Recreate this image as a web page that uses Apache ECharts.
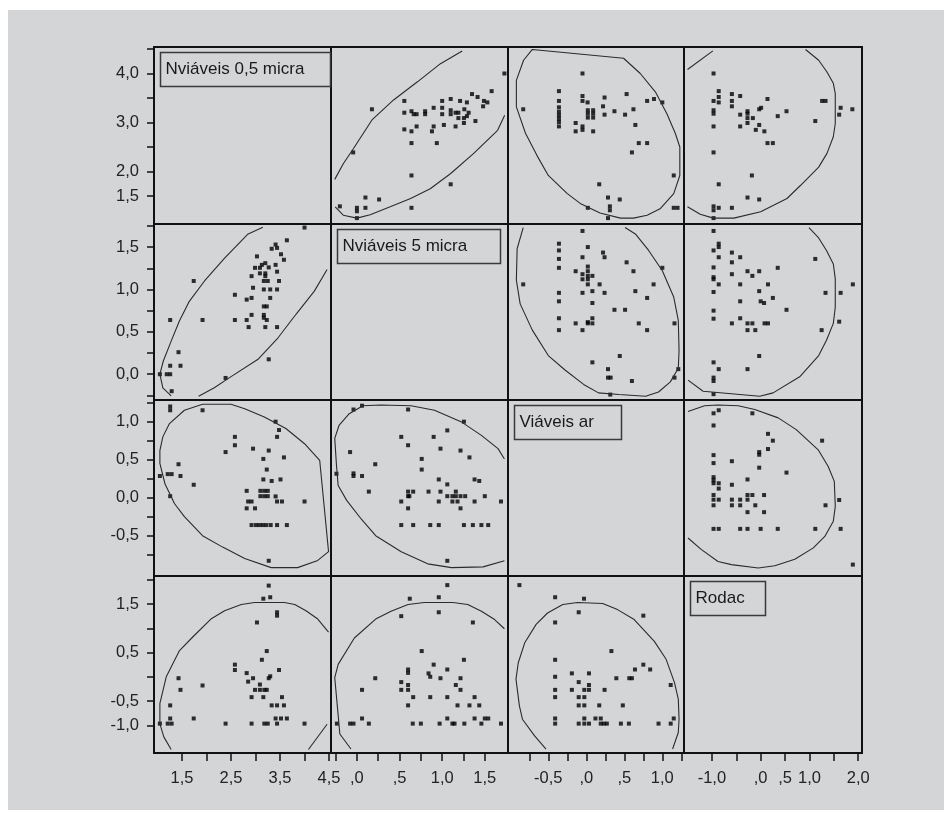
<!DOCTYPE html>
<html>
<head>
<meta charset="utf-8">
<script src="https://cdn.jsdelivr.net/npm/echarts@6/dist/echarts.min.js"></script>
<style>
html, body { margin: 0; background: #fff; }
#frame { position: absolute; left: 8px; top: 10px; width: 936px; height: 800px; background: #d4d5d7; }
#chart { position: absolute; left: 0; top: 0; width: 952px; height: 820px; }
</style>
</head>
<body>
<div id="frame"></div>
<div id="chart"></div>
<script>
// variable names (diagonal boxes)
const varNames = ['Nviáveis 0,5 micra', 'Nviáveis 5 micra', 'Viáveis ar', 'Rodac'];

// axis ranges for each variable
const varMin = [0.93, -0.304, -1.03, -1.572];
const varMax = [4.54, 1.772, 1.285, 2.078];

// tick positions and labels, x axis (bottom row) and y axis (left column)
const xTicks = [
  [1.5, 2, 2.5, 3, 3.5, 4, 4.5],
  [-0.25, 0, 0.25, 0.5, 0.75, 1, 1.25, 1.5],
  [-0.75, -0.5, -0.25, 0, 0.25, 0.5, 0.75, 1, 1.25],
  [-1, -0.5, 0, 0.5, 1, 1.5, 2]
];
const xLabelVals = [[1.5, 2.5, 3.5, 4.5], [0, 0.5, 1, 1.5], [-0.5, 0, 0.5, 1], [-1, 0, 0.5, 1, 2]];
const xLabelText = [['1,5', '2,5', '3,5', '4,5'], [',0', ',5', '1,0', '1,5'], ['-0,5', ',0', ',5', '1,0'], ['-1,0', ',0', ',5', '1,0', '2,0']];
const yTicks = [
  [1.5, 2, 2.5, 3, 3.5, 4, 4.5],
  [-0.25, 0, 0.25, 0.5, 0.75, 1, 1.25, 1.5, 1.75],
  [-0.75, -0.5, -0.25, 0, 0.25, 0.5, 0.75, 1, 1.25],
  [-1, -0.5, 0, 0.5, 1, 1.5, 2]
];
const yLabelVals = [[1.5, 2, 3, 4], [0, 0.5, 1, 1.5], [-0.5, 0, 0.5, 1], [-1, -0.5, 0.5, 1.5]];
const yLabelText = [['1,5', '2,0', '3,0', '4,0'], ['0,0', '0,5', '1,0', '1,5'], ['-0,5', '0,0', '0,5', '1,0'], ['-1,0', '-0,5', '0,5', '1,5']];

// points as [x, y] (x = column var, y = row var)
const pts12 = [[1.73,4.0],[1.58,3.64],[1.35,3.58],[1.415,3.52],[1.49,3.44],[1.53,3.41],[1.48,3.33],[1.29,3.41],[1.21,3.44],[1.10,3.48],[1.0,3.44],[0.556,3.44],[0.176,3.27],[0.556,3.20],[0.64,3.23],[0.666,3.17],[0.70,3.17],[0.80,3.23],[0.80,3.17],[0.90,3.30],[1.0,3.30],[1.0,3.17],[1.10,3.25],[1.10,3.17],[1.157,3.20],[1.19,3.20],[1.26,3.27],[1.31,3.20],[1.19,3.09],[1.255,3.09],[1.29,3.13],[1.39,3.03],[1.255,2.99],[1.157,2.92],[1.02,2.95],[0.90,2.92],[0.88,2.82],[0.70,2.92],[0.64,2.82],[0.556,2.86],[0.64,2.58],[0.937,2.58],[-0.044,2.39],[0.64,1.92],[1.10,1.74],[0.10,1.47],[0.26,1.43],[-0.20,1.29],[0.0,1.26],[0.0,1.19],[0.10,1.26],[0.64,1.26],[0.0,1.05]];
const pts13 = [[-0.05,4.0],[-0.36,3.64],[-0.36,3.44],[-0.36,3.31],[-0.36,3.22],[-0.36,3.15],[-0.36,3.08],[-0.36,3.01],[-0.36,2.92],[-0.83,3.27],[-0.05,3.54],[-0.05,3.44],[0.017,3.41],[0.02,3.25],[0.02,3.18],[0.02,3.10],[0.09,3.25],[0.09,3.18],[0.09,3.10],[-0.14,2.99],[-0.14,2.82],[-0.05,2.92],[-0.05,2.85],[0.09,2.82],[0.24,3.51],[0.22,3.33],[0.24,3.16],[0.37,3.23],[0.53,3.58],[0.62,3.27],[0.51,3.16],[0.80,3.44],[0.89,3.48],[1.0,3.41],[0.645,2.95],[0.69,2.58],[0.80,2.58],[0.60,2.39],[1.15,1.92],[0.17,1.74],[0.285,1.47],[0.44,1.43],[0.02,1.26],[0.31,1.29],[0.31,1.21],[0.285,1.05],[1.15,1.26],[1.20,1.26]];
const pts14 = [[-0.966,4.0],[-0.966,3.44],[-0.966,3.25],[-0.966,3.18],[-0.966,2.92],[-0.966,2.39],[-0.966,1.29],[-0.966,1.21],[-0.966,1.05],[-0.86,3.64],[-0.86,3.52],[-0.86,3.41],[-0.86,1.74],[-0.86,1.26],[-0.59,3.58],[-0.59,3.44],[-0.59,3.33],[-0.59,1.26],[-0.42,3.54],[-0.42,3.16],[-0.42,2.92],[-0.27,3.23],[-0.27,3.18],[-0.27,3.09],[-0.27,2.99],[-0.16,3.09],[-0.03,3.27],[0.01,3.30],[-0.03,2.95],[-0.10,2.85],[0.076,2.82],[0.14,3.48],[0.14,2.58],[0.25,2.58],[0.35,3.13],[0.53,3.23],[-0.18,1.92],[-0.27,1.47],[-0.03,1.43],[1.26,3.44],[1.33,3.44],[1.12,3.03],[1.64,3.30],[1.61,3.16],[1.88,3.27]];
const pts23 = [[-0.05,1.69],[-0.36,1.54],[-0.36,1.46],[-0.36,1.36],[-0.36,1.255],[-0.36,0.96],[-0.36,0.86],[-0.36,0.66],[-0.36,0.52],[-0.83,1.06],[0.02,1.50],[-0.05,1.38],[-0.14,1.215],[-0.05,1.18],[-0.05,1.12],[0.02,1.27],[0.02,1.215],[0.02,1.16],[0.02,1.12],[0.02,1.06],[0.08,1.16],[0.175,1.06],[-0.05,0.96],[0.08,0.98],[0.24,0.96],[0.08,0.84],[0.22,1.435],[0.24,1.38],[0.53,1.32],[0.62,1.215],[1.0,1.255],[0.885,1.06],[0.645,0.98],[0.80,0.90],[0.37,0.76],[0.51,0.76],[-0.14,0.60],[0.02,0.615],[0.02,0.60],[0.08,0.66],[0.08,0.60],[-0.05,0.52],[0.69,0.60],[0.80,0.52],[1.16,0.60],[0.44,0.215],[0.08,0.14],[0.285,0.06],[0.285,-0.04],[0.32,-0.04],[0.60,-0.08],[0.315,-0.24],[1.21,0.06],[1.16,-0.04]];
const pts24 = [[-0.966,1.69],[-0.966,1.46],[-0.966,1.26],[-0.966,1.145],[-0.966,1.12],[-0.966,0.97],[-0.966,0.75],[-0.966,0.655],[-0.966,0.14],[-0.966,-0.04],[-0.966,-0.08],[-0.966,-0.235],[-0.86,1.54],[-0.86,1.50],[-0.86,1.38],[-0.86,1.06],[-0.86,0.06],[-0.59,1.435],[-0.59,1.32],[-0.59,1.18],[-0.59,0.60],[-0.42,1.38],[-0.42,1.06],[-0.42,0.86],[-0.42,0.66],[-0.27,1.215],[-0.17,1.16],[-0.03,1.215],[-0.27,0.60],[-0.17,0.60],[-0.27,0.52],[-0.11,0.52],[-0.27,0.06],[-0.03,0.98],[0,0.86],[0.07,0.84],[-0.03,0.215],[0.15,1.06],[0.25,0.90],[0.08,0.60],[0.15,0.60],[0.35,1.255],[0.53,0.76],[1.12,1.36],[1.33,0.96],[1.64,0.96],[1.25,0.52],[1.61,0.62],[1.89,1.06]];
const pts34 = [[-0.86,1.15],[-0.966,1.11],[-0.17,1.11],[-0.966,0.95],[0.15,0.84],[0.25,0.75],[0.15,0.64],[-0.03,0.60],[-0.03,0.565],[1.26,0.75],[-0.966,0.56],[-0.966,0.455],[-0.59,0.48],[-0.03,0.395],[0.53,0.33],[-0.966,0.27],[-0.966,0.23],[-0.966,0.19],[-0.86,0.19],[-0.86,0.12],[-0.59,0.17],[-0.27,0.24],[-0.966,0.035],[-0.966,-0.026],[-0.86,-0.026],[-0.966,-0.10],[-0.59,-0.026],[-0.42,-0.026],[-0.27,-0.026],[-0.59,-0.10],[-0.42,-0.10],[-0.27,0.035],[-0.17,0.035],[0.07,0.035],[-0.11,-0.10],[-0.27,-0.19],[0.07,-0.19],[-0.966,-0.41],[-0.86,-0.41],[-0.42,-0.41],[-0.27,-0.41],[0,-0.41],[0.35,-0.41],[1.12,-0.41],[1.64,-0.41],[1.33,-0.10],[1.61,-0.03],[1.89,-0.88]];

// density ellipse outlines (visible arcs), same orientation as the points
const ell12 = [
  [[-0.26,1.84],[-0.16,2.16],[-0.04,2.47],[0.18,3.06],[0.43,3.46],[0.71,3.83],[0.98,4.20],[1.235,4.46]],
  [[1.733,3.15],[1.65,2.84],[1.37,2.37],[1.10,1.96],[0.86,1.65],[0.63,1.45],[0.39,1.28],[0.156,1.12],[0,1.05],[-0.16,1.11],[-0.255,1.28]]
];
const ell13 = [
  [[-0.92,3.32],[-0.92,3.86],[-0.825,4.27],[-0.71,4.49],[0.49,4.31],[0.71,4.0],[0.91,3.62],[1.06,3.18],[1.17,2.78],[1.23,2.50],[1.23,1.92],[1.15,1.55],[0.97,1.24],[0.80,1.11],[0.62,1.05],[0.45,1.05],[0.18,1.155],[-0.08,1.35],[-0.25,1.55],[-0.50,1.92],[-0.65,2.33],[-0.80,2.78],[-0.92,3.32]]
];
const ell14 = [
  [[-1.50,4.08],[-0.98,4.46]],
  [[0.92,4.49],[1.19,4.27],[1.36,4.03],[1.49,3.80],[1.53,3.59],[1.53,2.98],[1.49,2.71],[1.36,2.37],[1.19,2.09],[0.82,1.72],[0.54,1.45],[0,1.18],[-0.55,1.05],[-0.97,1.05],[-1.24,1.13],[-1.50,1.28]]
];
const ell23 = [
  [[-0.83,1.73],[-0.91,1.48],[-0.92,1.11],[-0.87,0.83],[-0.71,0.52],[-0.50,0.22],[-0.28,0.05],[-0.035,-0.12],[0.16,-0.22],[0.43,-0.24],[0.78,-0.26],[0.95,-0.21],[1.105,-0.09],[1.21,0.07],[1.22,0.28],[1.21,0.635],[1.15,0.91],[1.0,1.22],[0.82,1.46],[0.645,1.655],[0.51,1.73]]
];
const ell24 = [
  [[0.99,1.73],[1.18,1.615],[1.35,1.46],[1.49,1.30],[1.53,1.125],[1.53,0.79],[1.49,0.60],[1.35,0.40],[1.19,0.22],[0.80,-0.03],[0.255,-0.22],[-0.02,-0.26],[-0.60,-0.23],[-1.18,-0.20],[-1.49,-0.07]]
];
const ell34 = [
  [[-1.49,1.135],[-1.15,1.21],[-0.875,1.22],[-0.46,1.21],[-0.12,1.16],[0.36,1.05],[0.73,0.895],[1.18,0.63],[1.385,0.41],[1.51,0.215],[1.53,-0.115],[1.49,-0.31],[1.315,-0.51],[1.08,-0.66],[0.70,-0.81],[0.29,-0.895],[-0.05,-0.925],[-0.60,-0.88],[-0.875,-0.84],[-1.22,-0.68],[-1.49,-0.53]]
];

const pairs = {
  '01': [pts12, ell12], '02': [pts13, ell13], '03': [pts14, ell14],
  '12': [pts23, ell23], '13': [pts24, ell24], '23': [pts34, ell34]
};

// panel layout
const colLeft = [154, 331, 508, 684];
const colWidth = [177, 177, 176, 178];
const rowTop = [47, 224, 400, 576];
const rowHeight = [177, 176, 176, 177];

const font = 'Liberation Sans, Arial, sans-serif';
const ink = '#111';

function flip(list) { return list.map(p => [p[1], p[0]]) }
function lookup(vals, texts) {
  return function (v) {
    for (let i = 0; i < vals.length; i++) if (Math.abs(vals[i] - v) < 1e-6) return texts[i];
    return '';
  }
}

const grid = [], xAxis = [], yAxis = [], series = [];
for (let r = 0; r < 4; r++) {
  for (let c = 0; c < 4; c++) {
    const g = r * 4 + c;
    grid.push({
      left: colLeft[c], top: rowTop[r], width: colWidth[c], height: rowHeight[r],
      show: true, borderColor: ink, borderWidth: 2, backgroundColor: 'transparent'
    });
    const bottom = r == 3, left = c == 0;
    xAxis.push({
      type: 'value', gridIndex: g, min: varMin[c], max: varMax[c], position: 'bottom',
      show: bottom, splitLine: { show: false }, axisLine: { show: false, onZero: false },
      axisTick: { show: bottom, customValues: xTicks[c], length: 8, lineStyle: { color: ink, width: 1.5 } },
      axisLabel: {
        show: bottom, customValues: xLabelVals[c], formatter: lookup(xLabelVals[c], xLabelText[c]),
        margin: 17, fontSize: 16.5, fontFamily: font, color: '#222'
      }
    });
    yAxis.push({
      type: 'value', gridIndex: g, min: varMin[r], max: varMax[r], position: 'left',
      show: left, splitLine: { show: false }, axisLine: { show: false, onZero: false },
      axisTick: { show: left, customValues: yTicks[r], length: 7, lineStyle: { color: ink, width: 1.5 } },
      axisLabel: {
        show: left, customValues: yLabelVals[r], formatter: lookup(yLabelVals[r], yLabelText[r]),
        margin: 15, fontSize: 16.5, fontFamily: font, color: '#222',
        verticalAlign: 'middle', padding: [10, 0, 0, 0]
      }
    });
    if (r == c) continue;
    const key = r < c ? '' + r + c : '' + c + r;
    const pts = r < c ? pairs[key][0] : flip(pairs[key][0]);
    const arcs = r < c ? pairs[key][1] : pairs[key][1].map(flip);
    series.push({
      type: 'scatter', xAxisIndex: g, yAxisIndex: g, data: pts,
      symbol: 'rect', symbolSize: 4, itemStyle: { color: '#000' }, silent: true
    });
    arcs.forEach(a => series.push({
      type: 'line', xAxisIndex: g, yAxisIndex: g, data: a,
      showSymbol: false, symbol: 'none', smooth: false, silent: true,
      lineStyle: { color: '#2b2b2b', width: 1.1 }
    }));
  }
}

// name boxes on the diagonal
const boxW = [170, 163, 107, 75];
const graphic = varNames.map((name, i) => ({
  type: 'group', left: colLeft[i] + 4, top: rowTop[i] + 3,
  children: [
    { type: 'rect', shape: { x: 0, y: 0, width: boxW[i], height: 34 }, style: { fill: 'none', stroke: '#3a3a3a', lineWidth: 1.5 } },
    { type: 'text', x: 5, y: 17, style: { text: name, font: '17px ' + font, fill: '#1a1a1a', verticalAlign: 'middle' } }
  ]
}));

const chart = echarts.init(document.getElementById('chart'), null, { renderer: 'canvas' });
chart.setOption({
  animation: false,
  backgroundColor: 'transparent',
  grid, xAxis, yAxis, series, graphic
});
</script>
</body>
</html>
